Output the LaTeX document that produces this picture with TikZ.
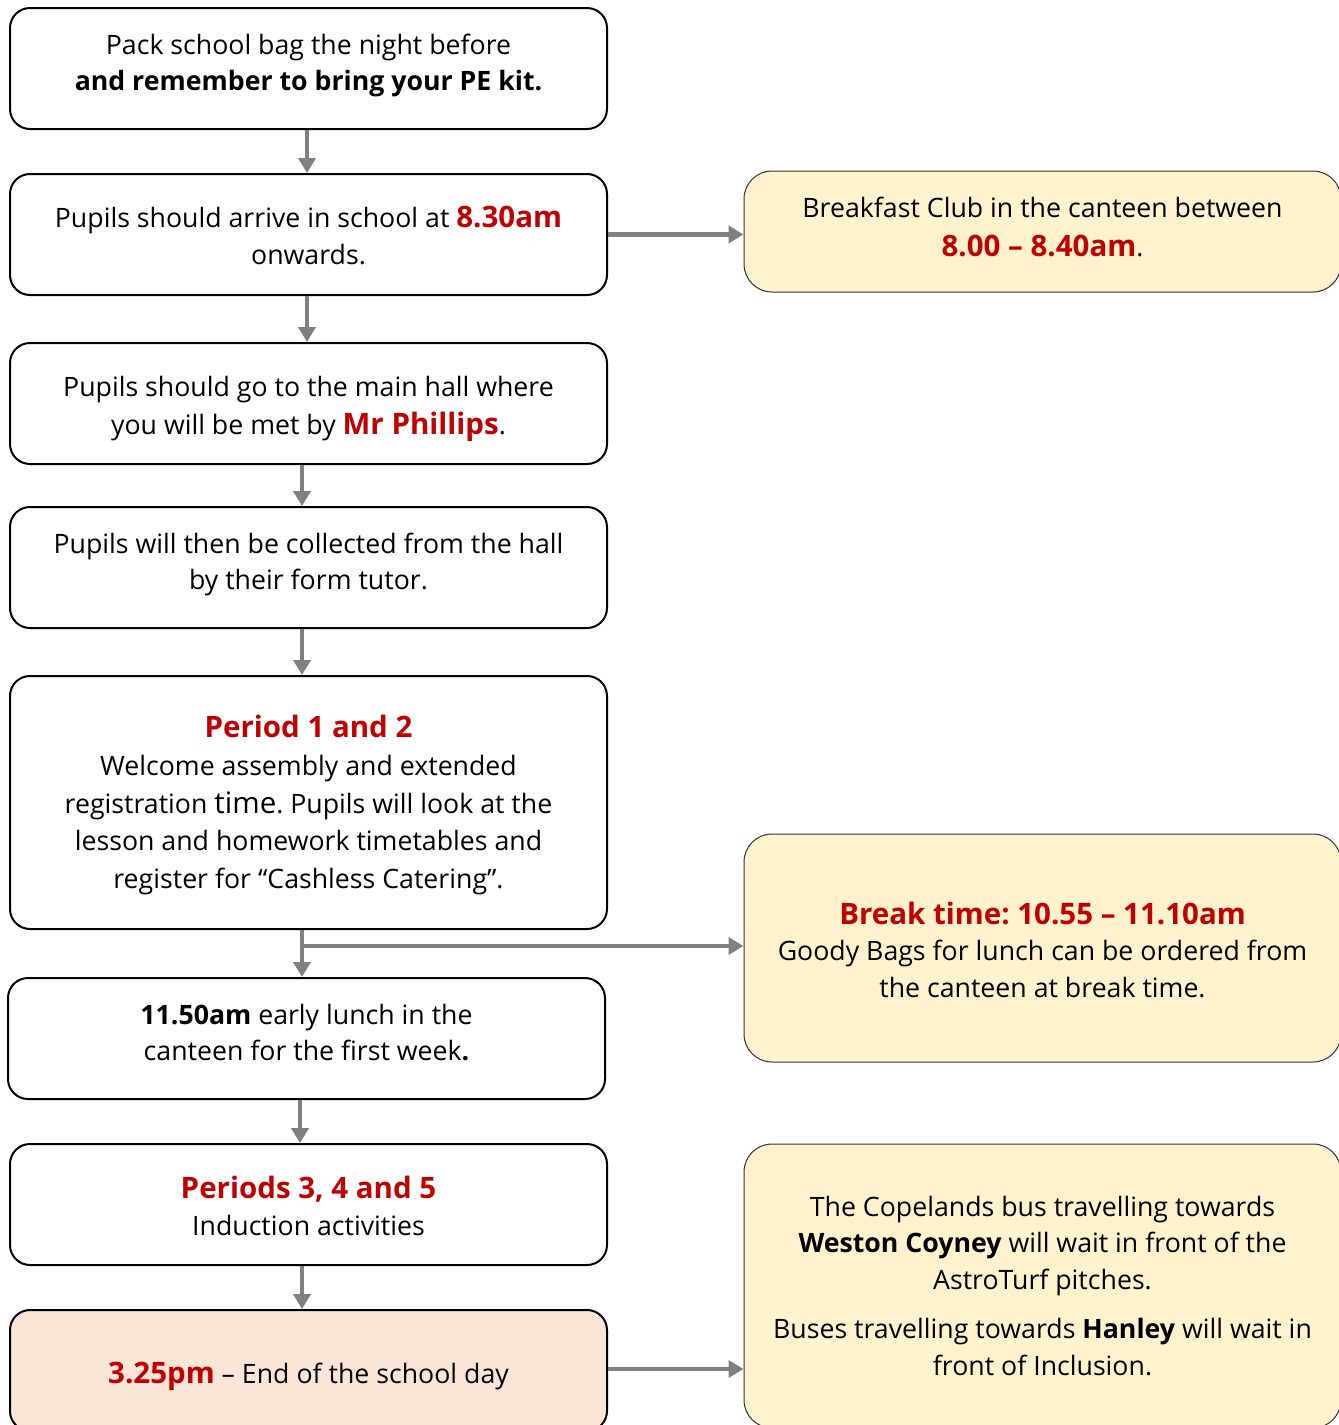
\documentclass[tikz,border=0pt]{standalone}
\usepackage{fontspec}
\setmainfont{Open Sans}
\usetikzlibrary{arrows.meta}
\definecolor{accent}{HTML}{C00000}
\definecolor{noteyellow}{HTML}{FFF2CC}
\definecolor{endpeach}{HTML}{FBE5D6}
\definecolor{arrowgray}{HTML}{808080}
\newcommand{\redtime}[1]{{\fontsize{29.5}{37}\selectfont\bfseries\color{accent}#1}}
\newcommand{\vshift}[2]{\raisebox{#1}[\height][\depth]{\begin{tabular}{@{}c@{}}#2\end{tabular}}}
\frenchspacing
\begin{document}
\begin{tikzpicture}[x=1pt,y=-1pt,
  stepbox/.style={draw=black, line width=2pt, rounded corners=20pt, minimum width=597pt,
    align=center, inner sep=0pt, fill=white, font=\fontsize{26.7}{36.5}\selectfont},
  notebox/.style={draw=black!80, line width=1pt, rounded corners=28pt, fill=noteyellow,
    minimum width=597pt, align=center, inner sep=0pt, font=\fontsize{26.7}{36.5}\selectfont},
  flow/.style={draw=arrowgray, line width=4.5pt, -{Triangle[length=15pt,width=17pt]}}]
\useasboundingbox (0,0) rectangle (1339,1425);
\clip (0,0) rectangle (1339,1425);

\node[stepbox, minimum height=121pt, font=\fontsize{26.7}{35.5}\selectfont] (b1) at (308.5,68.5)
  {\vshift{3pt}{Pack school bag the night before\\\textbf{and remember to bring your PE kit.}}};
\node[stepbox, minimum height=121pt] (b2) at (308.5,234.5)
  {\vshift{-4pt}{Pupils should arrive in school at \redtime{8.30am}\\onwards.}};
\node[stepbox, minimum height=121pt, font=\fontsize{26.7}{38}\selectfont] (b3) at (308.5,403.5)
  {\vshift{-4pt}{Pupils should go to the main hall where\\you will be met by \redtime{Mr Phillips}.}};
\node[stepbox, minimum height=121pt] (b4) at (308.5,567.5)
  {\vshift{3.5pt}{Pupils will then be collected from the hall\\by their form tutor.}};
\node[stepbox, minimum height=253pt, font=\fontsize{26.7}{37.8}\selectfont] (b5) at (308.5,802.5)
  {\vshift{-3pt}{\redtime{Period 1 and 2}\\Welcome assembly and extended\\registration {\fontsize{29.5}{37.8}\selectfont time}. Pupils will look at the\\lesson and homework timetables and\\register for “Cashless Catering”.}};
\node[stepbox, minimum height=121pt] (b6) at (306.5,1038.5)
  {\vshift{3.5pt}{\textbf{11.50am} early lunch in the\\canteen for the first week\textbf{.}}};
\node[stepbox, minimum height=121pt] (b7) at (308.5,1204.5)
  {\vshift{-5pt}{\redtime{Periods 3, 4 and 5}\\Induction activities}};
\node[stepbox, minimum height=121pt, fill=endpeach] (b8) at (308.5,1370.5)
  {\vshift{-6pt}{\redtime{3.25pm} – End of the school day}};

\node[notebox, minimum height=121pt, font=\fontsize{26.7}{39}\selectfont] (r1) at (1042.5,231.5)
  {\vshift{2pt}{Breakfast Club in the canteen between\\\redtime{8.00 – 8.40am}.}};
\node[notebox, minimum height=228pt] (r2) at (1042.5,948)
  {\vshift{-5.5pt}{\redtime{Break time: 10.55 – 11.10am}\\Goody Bags for lunch can be ordered from\\the canteen at break time.}};
\node[notebox, minimum height=284pt] (r3) at (1042.5,1286)
  {The Copelands bus travelling towards\\\textbf{Weston Coyney} will wait in front of the\\AstroTurf pitches.\\[13pt]Buses travelling towards \textbf{Hanley} will wait in\\front of Inclusion.};

\draw[flow] ([xshift=-1.5pt]b1.south) -- ([xshift=-1.5pt]b2.north);
\draw[flow] ([xshift=-1.5pt]b2.south) -- ([xshift=-1.5pt]b3.north);
\draw[flow] ([xshift=-6.5pt]b3.south) -- ([xshift=-6.5pt]b4.north);
\draw[flow] ([xshift=-6.5pt]b4.south) -- ([xshift=-6.5pt]b5.north);
\draw[flow] ([xshift=-6.5pt]b5.south) -- ([xshift=-4.5pt]b6.north);
\coordinate (split) at ([xshift=-6.5pt,yshift=-16pt]b5.south);
\draw[flow] (split) -- (split -| r2.west);
\draw[flow] ([xshift=-6.5pt]b6.south) -- ([xshift=-8.5pt]b7.north);
\draw[flow] ([xshift=-6.5pt]b7.south) -- ([xshift=-6.5pt]b8.north);
\draw[flow] (b2.east) -- (b2.east -| r1.west);
\draw[flow] ([yshift=1.5pt]b8.east) -- ([yshift=1.5pt]b8.east -| r3.west);
\end{tikzpicture}
\end{document}
